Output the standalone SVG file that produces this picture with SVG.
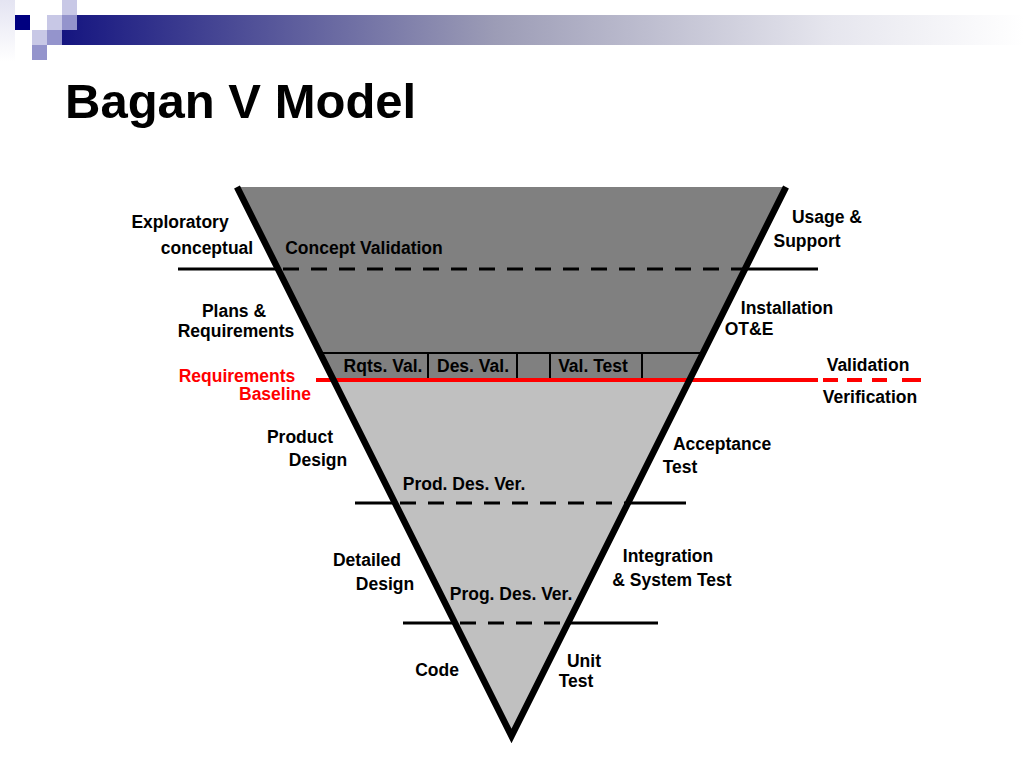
<svg xmlns="http://www.w3.org/2000/svg" width="1024" height="768" viewBox="0 0 1024 768">
  <defs>
    <linearGradient id="bar" x1="0" y1="0" x2="1" y2="0">
      <stop offset="0" stop-color="#151580"/>
      <stop offset="0.45" stop-color="#9c9cb6"/>
      <stop offset="0.8" stop-color="#e6e6ee"/>
      <stop offset="1" stop-color="#ffffff"/>
    </linearGradient>
    <linearGradient id="strip" x1="0" y1="0" x2="0" y2="1">
      <stop offset="0" stop-color="#e4e4f2"/>
      <stop offset="1" stop-color="#ffffff"/>
    </linearGradient>
  </defs>
  <style>
    text { font-family: "Liberation Sans", Arial, sans-serif; font-weight: bold; font-size: 17.5px; fill: #000; text-anchor: middle; }
    .red { fill: #ff0000; }
    .title { font-size: 49px; text-anchor: start; }
    .hl { stroke: #000; stroke-width: 3; fill: none; }
    .dash { stroke: #000; stroke-width: 3; fill: none; stroke-dasharray: 16 12; }
    .div { stroke: #000; stroke-width: 2; fill: none; }
    .redl { stroke: #ff0000; stroke-width: 4; fill: none; }
  </style>
  <rect width="1024" height="768" fill="#ffffff"/>

  <g id="decoration">
    <rect x="0" y="0" width="15" height="62" fill="url(#strip)"/>
    <rect x="62" y="15" width="962" height="30" fill="url(#bar)"/>
    <rect x="15" y="15" width="15" height="15" fill="#000080"/>
    <rect x="62" y="0" width="15" height="15" fill="#c8c8e6"/>
    <rect x="47" y="15" width="15" height="15" fill="#c8c8e6"/>
    <rect x="62" y="15" width="15" height="15" fill="#9494cc"/>
    <rect x="32" y="30" width="15" height="15" fill="#c8c8e6"/>
    <rect x="47" y="30" width="15" height="15" fill="#9494cc"/>
    <rect x="32" y="45" width="15" height="15" fill="#9494cc"/>
  </g>

  <g id="title">
    <text class="title" x="65" y="118">Bagan V Model</text>
  </g>

  <g id="v-shape">
    <polygon points="237,187 786,187 689.5,380 333.5,380" fill="#808080"/>
    <polygon points="333.5,380 689.5,380 511.5,736" fill="#c0c0c0"/>
  </g>

  <g id="connectors">
    <line class="hl" x1="178" y1="269" x2="279" y2="269"/>
    <line class="dash" x1="283" y1="269" x2="745" y2="269"/>
    <line class="hl" x1="745" y1="269" x2="818" y2="269"/>

    <line class="div" x1="320" y1="353" x2="703" y2="353"/>
    <line class="div" x1="428" y1="353" x2="428" y2="380"/>
    <line class="div" x1="517" y1="353" x2="517" y2="380"/>
    <line class="div" x1="550" y1="353" x2="550" y2="380"/>
    <line class="div" x1="642" y1="353" x2="642" y2="380"/>

    <line class="redl" x1="316" y1="380" x2="818" y2="380"/>
    <line class="redl" x1="823" y1="380" x2="838" y2="380"/>
    <line class="redl" x1="847" y1="380" x2="862" y2="380"/>
    <line class="redl" x1="872" y1="380" x2="887" y2="380"/>
    <line class="redl" x1="902" y1="380" x2="921" y2="380"/>

    <line class="hl" x1="355" y1="503" x2="396" y2="503"/>
    <line class="dash" x1="400" y1="503" x2="628" y2="503"/>
    <line class="hl" x1="628" y1="503" x2="686" y2="503"/>

    <line class="hl" x1="403" y1="623" x2="456" y2="623"/>
    <line class="dash" x1="460" y1="623" x2="568" y2="623"/>
    <line class="hl" x1="568" y1="623" x2="658" y2="623"/>

    <path d="M237,187 L511.5,736 L786,187" fill="none" stroke="#000" stroke-width="6.5" stroke-linejoin="miter" stroke-miterlimit="10"/>
  </g>

  <g id="left-labels">
    <text x="180" y="228">Exploratory</text>
    <text x="207" y="254">conceptual</text>
    <text x="234" y="317">Plans &amp;</text>
    <text x="236" y="337">Requirements</text>
    <text class="red" x="237" y="382">Requirements</text>
    <text class="red" x="275" y="400">Baseline</text>
    <text x="300" y="443">Product</text>
    <text x="318" y="466">Design</text>
    <text x="367" y="566">Detailed</text>
    <text x="385" y="590">Design</text>
    <text x="437" y="676">Code</text>
  </g>

  <g id="inner-labels">
    <text x="364" y="254">Concept Validation</text>
    <text x="383" y="372">Rqts. Val.</text>
    <text x="473" y="372">Des. Val.</text>
    <text x="593" y="372">Val. Test</text>
    <text x="464" y="490">Prod. Des. Ver.</text>
    <text x="511" y="600">Prog. Des. Ver.</text>
  </g>

  <g id="right-labels">
    <text x="827" y="223">Usage &amp;</text>
    <text x="807" y="247">Support</text>
    <text x="787" y="314">Installation</text>
    <text x="749" y="335">OT&amp;E</text>
    <text x="868" y="371">Validation</text>
    <text x="870" y="403">Verification</text>
    <text x="722" y="450">Acceptance</text>
    <text x="680" y="473">Test</text>
    <text x="668" y="562">Integration</text>
    <text x="672" y="586">&amp; System Test</text>
    <text x="584" y="667">Unit</text>
    <text x="576" y="687">Test</text>
  </g>
</svg>
